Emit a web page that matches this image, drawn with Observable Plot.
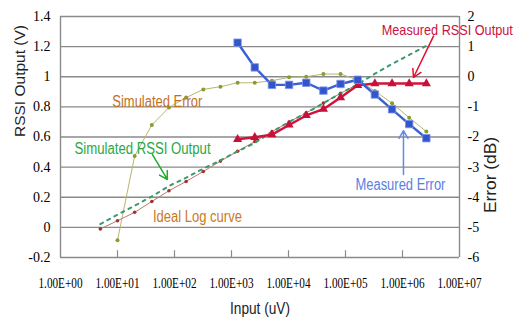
<!DOCTYPE html>
<html>
<head>
<meta charset="utf-8">
<script src="https://cdn.jsdelivr.net/npm/d3@7"></script>
<script src="https://cdn.jsdelivr.net/npm/@observablehq/plot@0.6"></script>
<style>
  html, body { margin: 0; padding: 0; background: #ffffff; }
  #chart { width: 519px; height: 327px; }
</style>
</head>
<body>
<div id="chart"></div>
<script>
// Input levels (uV)
const inputs = [5, 10, 20, 40, 80, 160, 320, 640, 1280, 2560, 5120, 10240, 20480, 40960, 81920, 163840, 327680, 655360, 1310720, 2621440];
// Simulated RSSI Output (V), inputs 5 .. 2621440
const simulatedRssi = [0.022, 0.084, 0.144, 0.205, 0.275, 0.33, 0.39, 0.445, 0.505, 0.56, 0.635, 0.70, 0.76, 0.825, 0.89, 0.95, 1.02, 1.085, 1.145, 1.205];
// Ideal Log curve (V), inputs 5 .. 163840
const idealLog = [-0.01, 0.044, 0.10, 0.172, 0.243, 0.305, 0.371, 0.44, 0.505, 0.57, 0.635, 0.70, 0.76, 0.825, 0.89, 0.95];
// Simulated Error (dB), inputs 10 .. 2621440
const simulatedError = [-5.43, -2.63, -1.6, -1.02, -0.69, -0.42, -0.33, -0.2, -0.2, -0.13, -0.02, 0.0, 0.09, 0.09, -0.11, -0.47, -0.88, -1.36, -1.82];
// Measured RSSI Output (V), inputs 1280 .. 2621440
const measuredRssi = [0.585, 0.598, 0.616, 0.68, 0.743, 0.785, 0.862, 0.943, 0.955, 0.955, 0.955, 0.955];
// Measured Error (dB), inputs 1280 .. 2621440
const measuredError = [1.13, 0.31, -0.27, -0.27, -0.2, -0.46, -0.24, -0.1, -0.59, -1.08, -1.57, -2.04];

const xTicks = [1, 10, 100, 1000, 10000, 100000, 1000000, 10000000];
const xTickLabels = ["1.00E+00", "1.00E+01", "1.00E+02", "1.00E+03", "1.00E+04", "1.00E+05", "1.00E+06", "1.00E+07"];
const leftTicks = [1.4, 1.2, 1, 0.8, 0.6, 0.4, 0.2, 0, -0.2];
const leftTickLabels = ["1.4", "1.2", "1", "0.8", "0.6", "0.4", "0.2", "0", "-0.2"];
const rightTicks = [2, 1, 0, -1, -2, -3, -4, -5, -6];
const rightTickLabels = ["2", "1", "0", "-1", "-2", "-3", "-4", "-5", "-6"];

// Error (dB) axis shares the frame with RSSI (V): 0 dB ↔ 1 V, 1 dB ↔ 0.2 V
const errToV = e => 1 + 0.2 * e;

const simRssiData = simulatedRssi.map((v, i) => ({x: inputs[i], y: v}));
const idealData = idealLog.map((v, i) => ({x: inputs[i], y: v}));
const simErrData = simulatedError.map((e, i) => ({x: inputs[i + 1], y: errToV(e)}));
const measRssiData = measuredRssi.map((v, i) => ({x: inputs[i + 8], y: v}));
const measErrData = measuredError.map((e, i) => ({x: inputs[i + 8], y: errToV(e)}));

const fontSans = "Liberation Sans, Arial, sans-serif";
const fontSerif = "Liberation Serif, Times New Roman, serif";

const annotations = [
  {text: "Simulated Error", x: 50, y: 0.834, color: "#c2701f", w: 90, fs: 16},
  {text: "Simulated RSSI Output", x: 27.5, y: 0.523, color: "#2aa843", w: 136, fs: 16},
  {text: "Ideal Log curve", x: 252, y: 0.073, color: "#c97a1c", w: 89, fs: 16},
  {text: "Measured RSSI Output", x: 6.1e6, y: 1.306, color: "#cc1140", w: 131, fs: 15},
  {text: "Measured Error", x: 9.2e5, y: 0.285, color: "#5b7ee0", w: 90, fs: 16}
];
const arrows = [
  {x1: 41, y1: 0.483, x2: 75, y2: 0.318, color: "#1fae2a"},
  {x1: 3.5e6, y1: 1.27, x2: 1.56e6, y2: 0.995, color: "#dd1133"},
  {x1: 1.04e6, y1: 0.351, x2: 1.04e6, y2: 0.642, color: "#6688dd"}
];

const chart = Plot.plot({
  width: 519,
  height: 327,
  marginLeft: 60,
  marginRight: 60,
  marginTop: 16,
  marginBottom: 70,
  style: {background: "#ffffff", fontFamily: fontSans, overflow: "visible"},
  x: {type: "log", domain: [1, 1e7]},
  y: {domain: [-0.2, 1.4]},
  marks: [
    Plot.ruleY(leftTicks, {stroke: "#8a8a8a", strokeWidth: 1.4}),
    Plot.ruleX([1, 1e7], {stroke: "#8a8a8a", strokeWidth: 1.4}),
    Plot.ruleX(xTicks.slice(1, -1), {y1: -0.2, y2: -0.155, stroke: "#8a8a8a", strokeWidth: 1.2}),
    Plot.axisX({ticks: xTicks, tickSize: 0, tickPadding: 21, fontSize: 14, fontFamily: fontSerif, label: null,
      tickFormat: d => xTickLabels[xTicks.indexOf(d)]}),
    Plot.axisY({ticks: leftTicks, tickSize: 0, tickPadding: 10, fontSize: 14, fontFamily: fontSerif, label: null,
      tickFormat: d => leftTickLabels[leftTicks.indexOf(d)]}),
    Plot.axisY({anchor: "right", ticks: rightTicks.map(errToV), tickSize: 0, tickPadding: 8, fontSize: 14, fontFamily: fontSerif, label: null,
      tickFormat: (d, i) => rightTickLabels[i]}),
    // Simulated Error
    Plot.line(simErrData, {x: "x", y: "y", stroke: "#b8b574", strokeWidth: 1}),
    Plot.dot(simErrData, {x: "x", y: "y", r: 2, fill: "#8d9a2e", stroke: "none"}),
    // Ideal Log curve
    Plot.line(idealData, {x: "x", y: "y", stroke: "#b57c70", strokeWidth: 1}),
    Plot.dot(idealData, {x: "x", y: "y", r: 1.8, fill: "#a3322c", stroke: "none"}),
    // Simulated RSSI Output
    Plot.line(simRssiData, {x: "x", y: "y", stroke: "#3a9a6c", strokeWidth: 2, strokeDasharray: "3,5"}),
    // Measured RSSI Output
    Plot.line(measRssiData, {x: "x", y: "y", stroke: "#d3123c", strokeWidth: 2.4}),
    Plot.dot(measRssiData, {x: "x", y: "y", symbol: "triangle", r: 3.4, fill: "#c8103a", stroke: "none"}),
    // Measured Error
    Plot.line(measErrData, {x: "x", y: "y", stroke: "#3a5fd6", strokeWidth: 2.4}),
    Plot.dot(measErrData, {x: "x", y: "y", symbol: "square", r: 4.2, fill: "#3355cc", stroke: "#7e96ea", strokeWidth: 0.8}),
    // Arrows and annotations
    Plot.arrow(arrows, {x1: "x1", y1: "y1", x2: "x2", y2: "y2", stroke: "color", strokeWidth: 1.5, headLength: 9}),
    Plot.text(annotations, {x: "x", y: "y", text: "text", fill: "color", fontSize: "fs", fontFamily: fontSans}),
    // Axis titles
    Plot.text(["Input (uV)"], {frameAnchor: "bottom", dy: 56, fontSize: 16, fill: "#222"}),
    Plot.text(["RSSI Output (V)"], {frameAnchor: "left", dx: -40, rotate: -90, fontSize: 15.5, fill: "#222"}),
    Plot.text(["Error (dB)"], {frameAnchor: "right", dx: 31, rotate: -90, fontSize: 16, fill: "#222"})
  ]
});

// Horizontally condensed lettering like the reference
const fits = {"Input (uV)": 60, "RSSI Output (V)": 112, "Error (dB)": 76};
annotations.forEach(a => fits[a.text] = a.w);
xTickLabels.forEach(t => fits[t] = 44);
d3.select(chart).selectAll("text").each(function() {
  const t = this.textContent;
  if (fits[t]) {
    this.setAttribute("textLength", fits[t]);
    this.setAttribute("lengthAdjust", "spacingAndGlyphs");
  }
});

document.getElementById("chart").appendChild(chart);
</script>
</body>
</html>
